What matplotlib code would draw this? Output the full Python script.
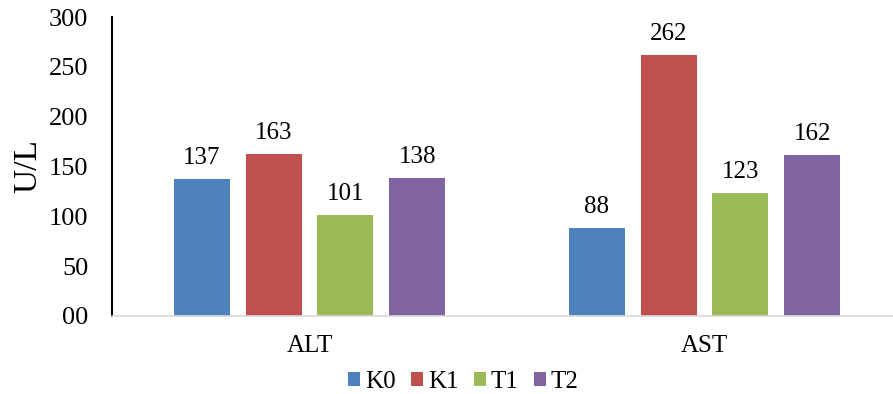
import numpy as np
import matplotlib
matplotlib.use('Agg')
import matplotlib.pyplot as plt

categories = ['ALT', 'AST']
series = ['K0', 'K1', 'T1', 'T2']
k0 = [137, 88]
k1 = [163, 262]
t1 = [101, 123]
t2 = [138, 162]
colors = ['#4F81BD', '#C0504D', '#9BBB59', '#8064A2']

plt.rcParams['font.family'] = ['Liberation Serif', 'DejaVu Serif']

fig = plt.figure(figsize=(8.93, 3.94), dpi=100)
ax = fig.add_axes([112 / 893, 1 - 316 / 394, 790 / 893, 299 / 394])

x = np.arange(len(categories))
width = 0.142
step = 0.182
for i, (name, vals) in enumerate(zip(series, [k0, k1, t1, t2])):
    pos = x + (i - 1.5) * step
    bars = ax.bar(pos, vals, width, color=colors[i], label=name, zorder=2)
    for b, v in zip(bars, vals):
        ax.text(b.get_x() + b.get_width() / 2, v + 10, str(v),
                ha='center', va='bottom', fontsize=18)

ax.set_xlim(-0.5, 1.5)
ax.set_ylim(0, 300)
ax.set_yticks(range(0, 301, 50))
ax.set_yticklabels(['00', '50', '100', '150', '200', '250', '300'], fontsize=19)
ax.set_xticks(x)
ax.set_xticklabels(categories, fontsize=18)
ax.tick_params(axis='both', length=0)
ax.tick_params(axis='x', pad=14)
ax.tick_params(axis='y', pad=17)
ax.set_ylabel('U/L', fontsize=24, labelpad=4)

for s in ['top', 'right']:
    ax.spines[s].set_visible(False)
ax.spines['left'].set_color('black')
ax.spines['left'].set_linewidth(1.5)
ax.spines['bottom'].set_color('#D9D9D9')
ax.spines['bottom'].set_linewidth(1.2)

fig.legend(loc='lower center', bbox_to_anchor=(0.519, -0.055),
           ncol=4, frameon=False, fontsize=18, handlelength=0.48,
           handleheight=0.48, handletextpad=0.2, columnspacing=0.6)

fig.savefig('out.png', dpi=100)
